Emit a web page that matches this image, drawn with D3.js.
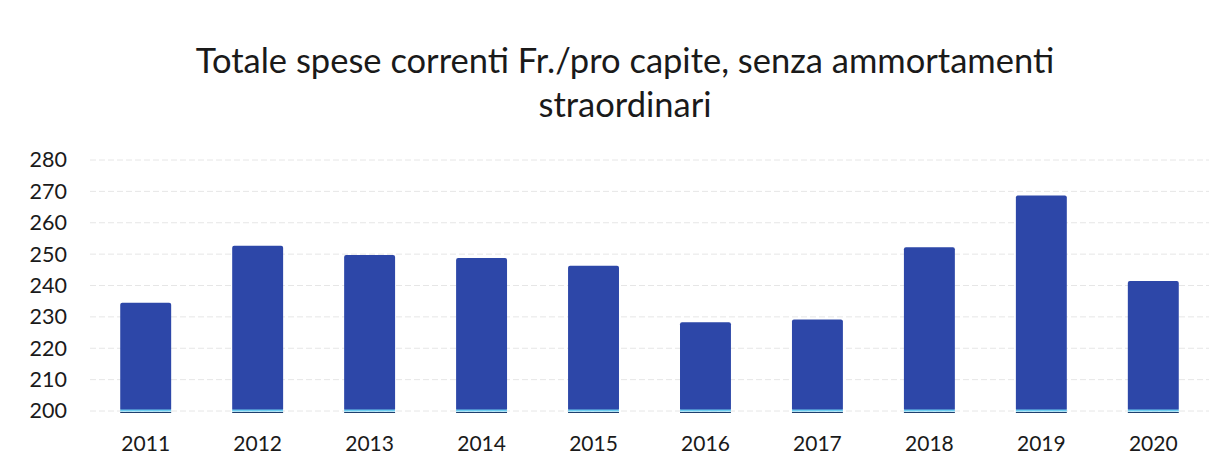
<!DOCTYPE html>
<html>
<head>
	<meta charset="utf-8">
	<title>Totale spese correnti</title>
	<script src="https://d3js.org/d3.v7.min.js"></script>
	<style>
		body { margin: 0; background: #fff; }
		text { font-family: Lato, "Open Sans", sans-serif; fill: #1a1a1a; }
	</style>
</head>
<body>
	<script>
		// data
		var years = ["2011", "2012", "2013", "2014", "2015", "2016", "2017", "2018", "2019", "2020"];
		var spese = [234.5, 252.7, 249.7, 248.8, 246.3, 228.3, 229.2, 252.2, 268.7, 241.4];
		var yTicks = [200, 210, 220, 230, 240, 250, 260, 270, 280];
		var titleLines = ["Totale spese correnti Fr./pro capite, senza ammortamenti", "straordinari"];

		var svgWidth = 1223,
			svgHeight = 463,
			svg = d3.select("body")
				.append("svg")
				.attr("width", svgWidth)
				.attr("height", svgHeight);

		var x = d3.scaleBand()
				.domain(years)
				.range([90, 1209])
				.paddingInner(0.545)
				.paddingOuter(0.27),
			y = d3.scaleLinear()
				.domain([200, 280])
				.range([411, 160]);

		// title
		svg.append("g")
			.selectAll("text")
			.data(titleLines)
			.enter().append("text")
			.attr("x", 625)
			.attr("y", function(d, i) { return 73 + i * 44; })
			.attr("text-anchor", "middle")
			.attr("font-size", 34.5)
			.text(function(d) { return d; });

		// gridlines
		svg.append("g")
			.selectAll("line")
			.data(yTicks)
			.enter().append("line")
			.attr("x1", 90)
			.attr("x2", 1209)
			.attr("y1", function(d) { return y(d); })
			.attr("y2", function(d) { return y(d); })
			.attr("stroke", "#e6e6e6")
			.attr("stroke-width", 1)
			.attr("stroke-dasharray", "6,3");

		// y axis labels
		var yAxis = svg.append("g")
			.attr("transform", "translate(69,0)")
			.call(d3.axisLeft(y).tickValues(yTicks).tickSize(0).tickPadding(2));
		yAxis.select(".domain").remove();
		yAxis.selectAll("text")
			.attr("font-size", 21.5)
			.attr("font-family", "Lato, sans-serif")
			.attr("fill", "#1a1a1a");

		// x axis labels
		var xAxis = svg.append("g")
			.attr("transform", "translate(0,436)")
			.call(d3.axisBottom(x).tickSize(0).tickPadding(0));
		xAxis.select(".domain").remove();
		xAxis.selectAll("text")
			.attr("font-size", 21)
			.attr("font-family", "Lato, sans-serif")
			.attr("fill", "#1a1a1a");

		// bars
		var bars = svg.append("g")
			.selectAll("g")
			.data(years)
			.enter().append("g");

		bars.append("rect")
			.attr("x", function(d) { return x(d); })
			.attr("y", function(d, i) { return y(spese[i]); })
			.attr("width", x.bandwidth())
			.attr("height", function(d, i) { return y(200) - y(spese[i]); })
			.attr("rx", 2)
			.attr("fill", "#2d47a8");

		// light blue edge at the bottom of each bar
		bars.append("line")
			.attr("x1", function(d) { return x(d); })
			.attr("x2", function(d) { return x(d) + x.bandwidth(); })
			.attr("y1", y(200) - 0.5)
			.attr("y2", y(200) - 0.5)
			.attr("stroke", "#6ccdf0")
			.attr("stroke-width", 2);
		bars.append("line")
			.attr("x1", function(d) { return x(d); })
			.attr("x2", function(d) { return x(d) + x.bandwidth(); })
			.attr("y1", y(200) + 1.5)
			.attr("y2", y(200) + 1.5)
			.attr("stroke", "#1f3f6e")
			.attr("stroke-width", 1);
	</script>
</body>
</html>
